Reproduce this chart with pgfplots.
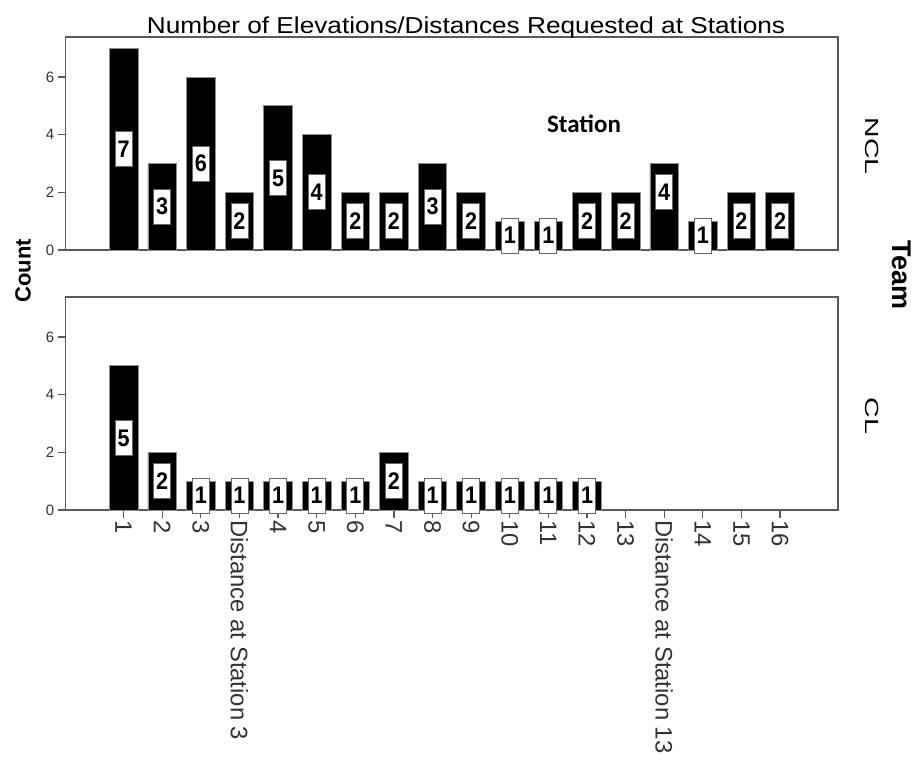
\documentclass[border=0pt]{standalone}
\usepackage{fontspec}
\setmainfont{Liberation Sans}
\newfontfamily\calibri{Carlito}
\usepackage{graphicx}
\usepackage{pgfplots}
\pgfplotsset{compat=1.18}
\usepackage{pgfplotstable}

\pgfplotstableread{
x y lab ly
0 7 7 3.5
1 3 3 1.5
2 6 6 3
3 2 2 1
4 5 5 2.5
5 4 4 2
6 2 2 1
7 2 2 1
8 3 3 1.5
9 2 2 1
10 1 1 0.5
11 1 1 0.5
12 2 2 1
13 2 2 1
14 3 4 2
15 1 1 0.5
16 2 2 1
17 2 2 1
}\ncl

\pgfplotstableread{
x y lab ly
0 5 5 2.5
1 2 2 1
2 1 1 0.5
3 1 1 0.5
4 1 1 0.5
5 1 1 0.5
6 1 1 0.5
7 2 2 1
8 1 1 0.5
9 1 1 0.5
10 1 1 0.5
11 1 1 0.5
12 1 1 0.5
}\cl

\definecolor{axgray}{HTML}{5A5A5A}
\definecolor{labgray}{HTML}{333333}

\pgfplotsset{
  panel/.style={
    scale only axis, width=772.3pt, height=213pt,
    xmin=-1.5, xmax=18.5, ymin=0, ymax=7.39,
    ytick={0,2,4,6},
    axis line style={draw=axgray, line width=1.3pt},
    tick style={draw=axgray, line width=1.2pt},
    tick align=outside, major tick length=8pt,
    ytick pos=left, xtick pos=bottom,
    yticklabel style={font=\fontsize{15}{15}\selectfont, text=labgray},
    /pgf/number format/assume math mode=true,
    clip=false,
  },
  barsty/.style={ybar, bar width=0.74, fill=black, draw=black!45, line width=0.8pt},
  labsty/.style={draw=none, mark=none, nodes near coords, point meta=explicit symbolic,
    nodes near coords align={center},
    nodes near coords={\scalebox{0.9}[1]{\pgfplotspointmeta}},
    every node near coord/.append style={anchor=center, fill=white, draw=black!60, line width=0.8pt,
      inner xsep=2.5pt, inner ysep=0pt, minimum height=35pt, text=black,
      font=\bfseries\fontsize{24}{24}\selectfont}},
}

\begin{document}
\begin{tikzpicture}
\useasboundingbox (0pt,0pt) rectangle (924pt,762pt);

\begin{axis}[panel, at={(65.7pt,512pt)}, anchor=south west, xtick=\empty]
\addplot[barsty] table[x=x, y=y] {\ncl};
\addplot[labsty] table[x=x, y=ly, meta=lab] {\ncl};
\end{axis}

\begin{axis}[panel, at={(65.7pt,252pt)}, anchor=south west,
  xtick={0,...,17},
  xticklabels={1,2,3,Distance at Station 3,4,5,6,7,8,9,10,11,12,13,Distance at Station 13,14,15,16},
  xticklabel style={rotate=-90, anchor=west, font=\fontsize{23.8}{23.8}\selectfont, text=labgray, xshift=-1pt}]
\addplot[barsty] table[x=x, y=y] {\cl};
\addplot[labsty] table[x=x, y=ly, meta=lab] {\cl};
\end{axis}

\node[anchor=base, font=\fontsize{23}{23}\selectfont] at (466pt,728pt) {\scalebox{1.14}[1]{Number of Elevations/Distances Requested at Stations}};
\node[rotate=90, font=\bfseries\fontsize{22}{22}\selectfont] at (23pt,491pt) {Count};
\node[rotate=-90, font=\bfseries\fontsize{27}{27}\selectfont] at (902pt,487pt) {Team};
\node[rotate=-90, font=\fontsize{19}{19}\selectfont] at (872pt,616pt) {\scalebox{1.5}[1]{NCL}};
\node[rotate=-90, font=\fontsize{19}{19}\selectfont] at (872pt,346pt) {\scalebox{1.5}[1]{CL}};
\node[font=\calibri\bfseries\fontsize{25}{25}\selectfont] at (584pt,638pt) {Station};
\end{tikzpicture}
\end{document}
